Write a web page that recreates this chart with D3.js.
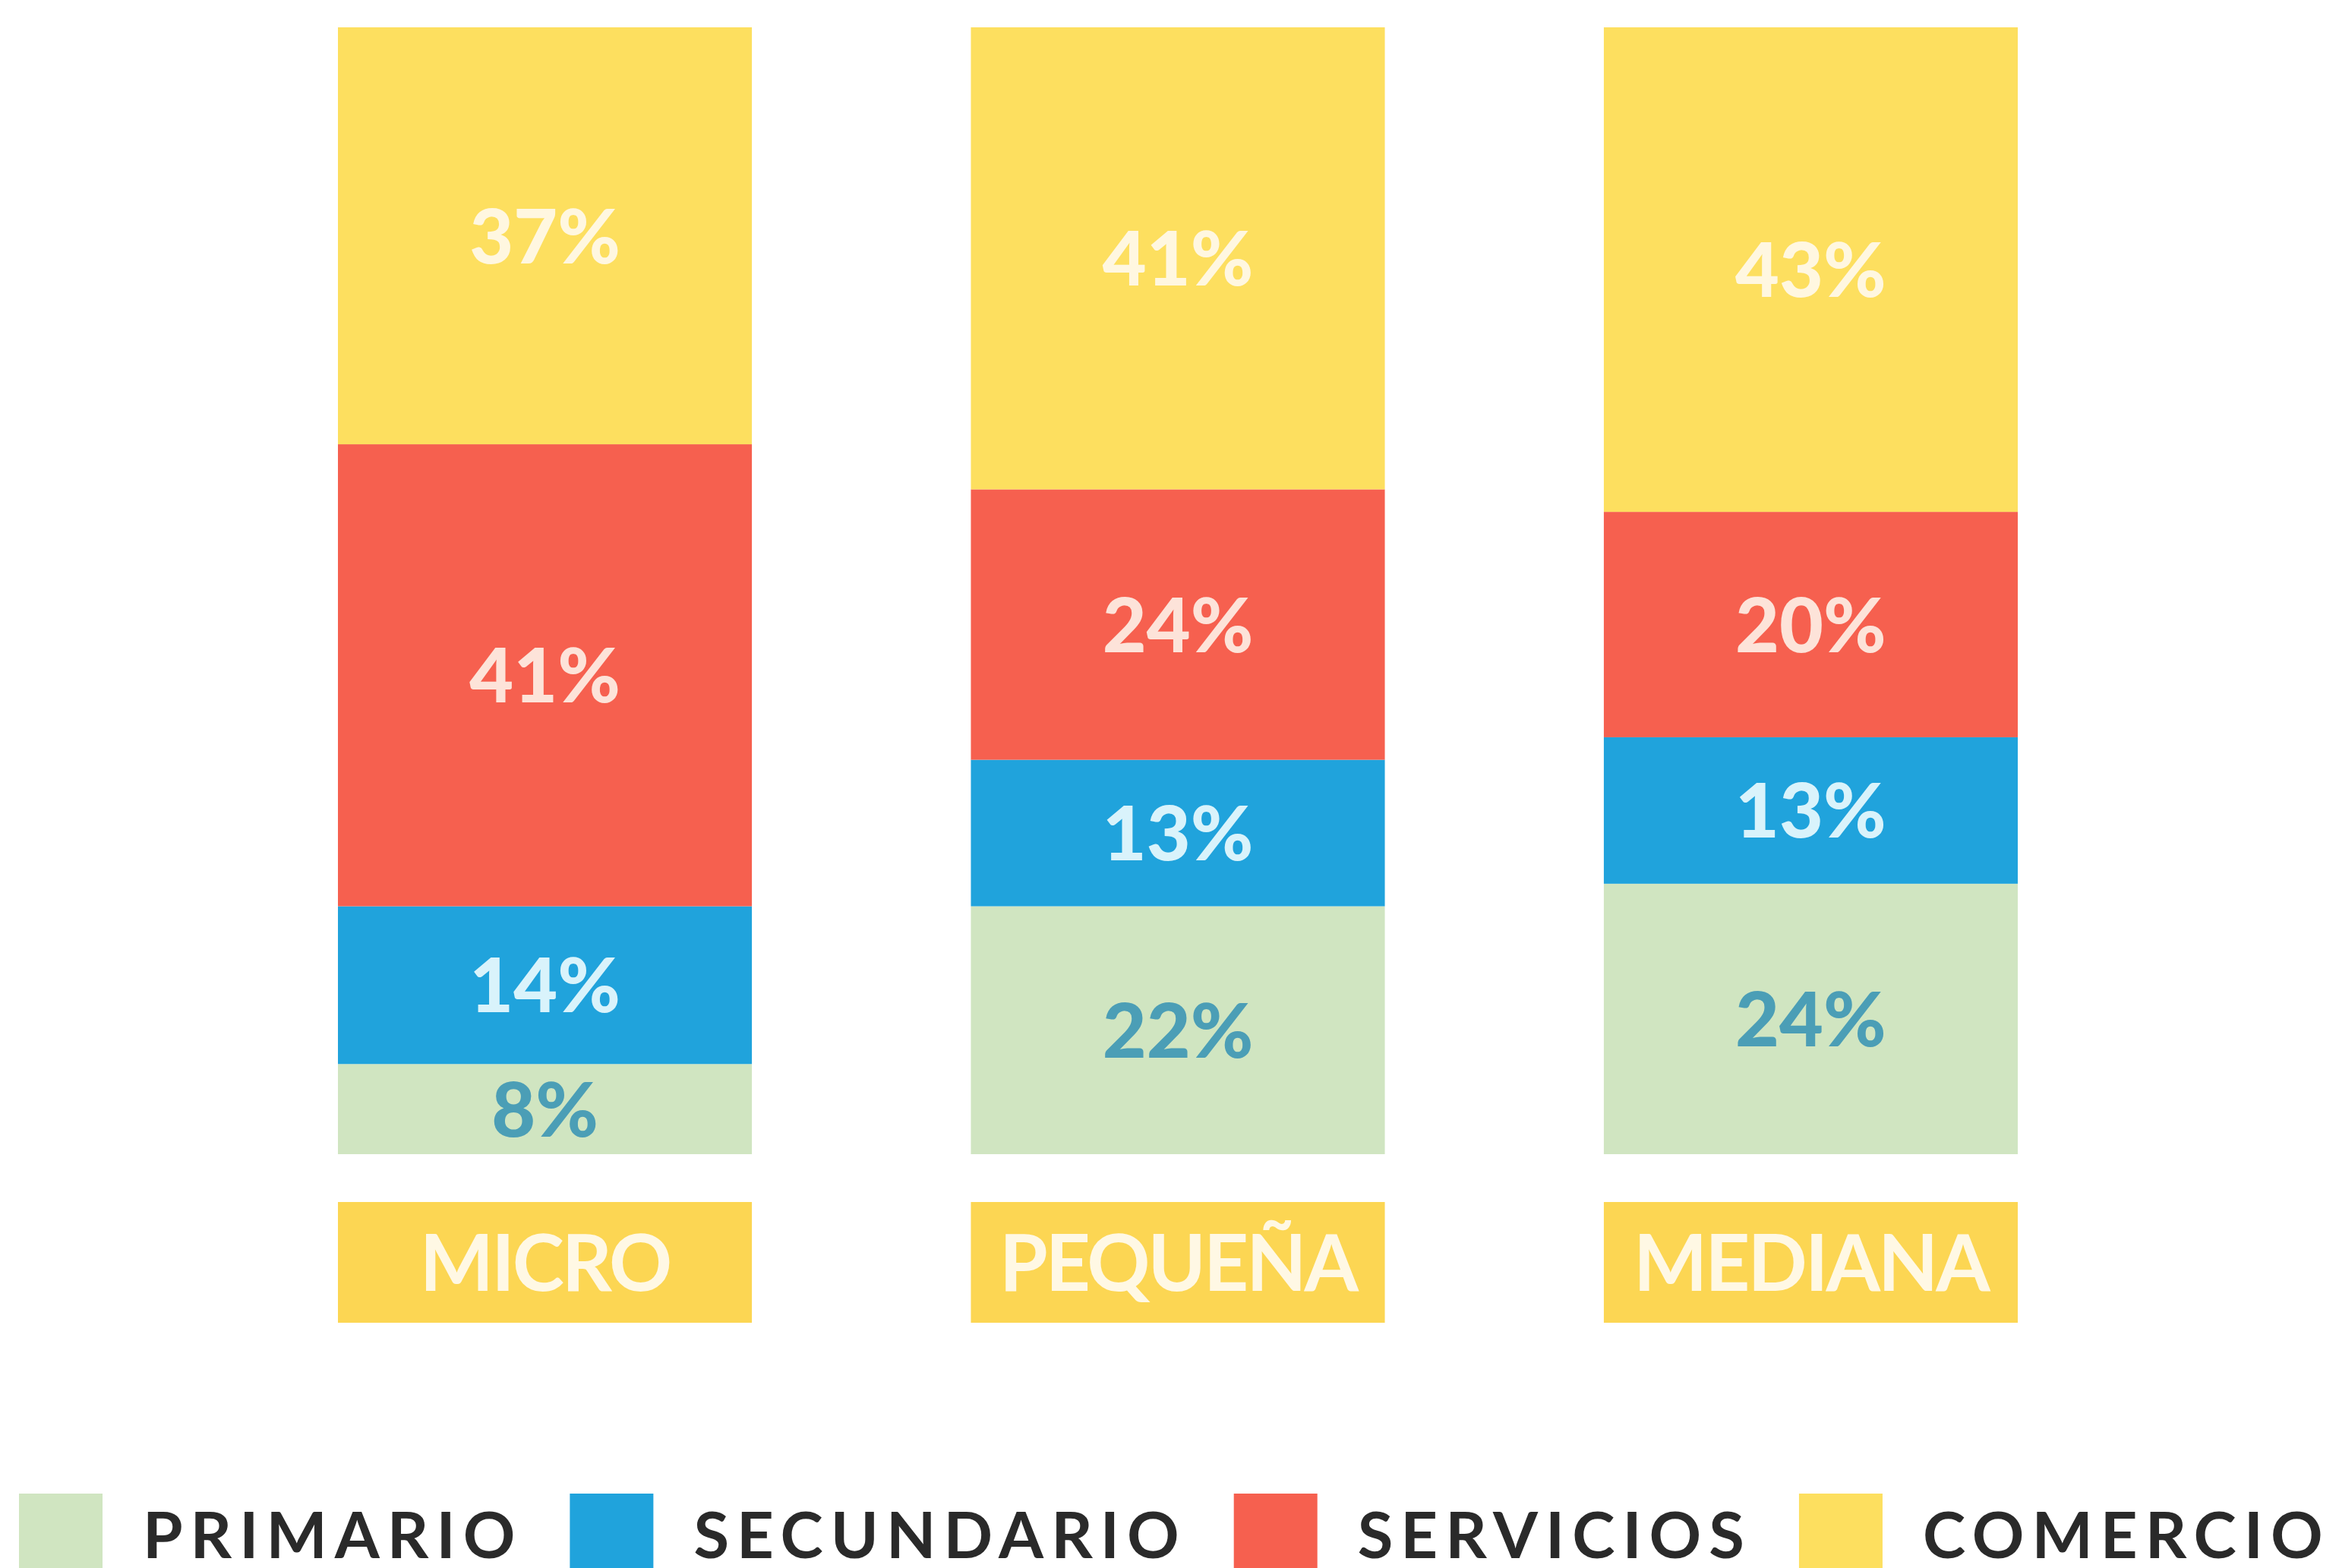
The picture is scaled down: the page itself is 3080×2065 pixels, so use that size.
<!DOCTYPE html>
<html>
<head>
<meta charset="utf-8">
<script src="https://cdn.jsdelivr.net/npm/d3@7"></script>
<style>
  html, body { margin: 0; padding: 0; background: #ffffff; }
  #chart { width: 3080px; height: 2065px; }
</style>
</head>
<body>
<div id="chart"></div>
<script>
"use strict";

// Data (percent of companies per sector)
var categories = ["MICRO", "PEQUEÑA", "MEDIANA"];
var series = ["PRIMARIO", "SECUNDARIO", "SERVICIOS", "COMERCIO"];
var primario   = [8, 22, 24];
var secundario = [14, 13, 13];
var servicios  = [41, 24, 20];
var comercio   = [37, 41, 43];

var colors    = ["#d0e5c1", "#20a3dc", "#f6604f", "#fddf5f"];
var txtColors = ["#4b9eb6", "#d9f3fb", "#fde3d9", "#fff7e0"];

var width = 3080, height = 2065;

var svg = d3.select("#chart")
            .append("svg")
            .attr("width", width)
            .attr("height", height);

// rows for d3.stack
var rows = categories.map(function(c, i) {
  return { cat: c, PRIMARIO: primario[i], SECUNDARIO: secundario[i],
           SERVICIOS: servicios[i], COMERCIO: comercio[i] };
});

var stacked = d3.stack().keys(series)(rows);

// Scales
var x = d3.scaleBand()
          .domain(categories)
          .range([445, 2657])
          .paddingInner(0.346)
          .paddingOuter(0);

var y = d3.scaleLinear()
          .domain([0, 100])
          .range([1520, 36]);

var color = d3.scaleOrdinal().domain(series).range(colors);
var txtColor = d3.scaleOrdinal().domain(series).range(txtColors);

// bars
var layer = svg.selectAll("g.layer")
               .data(stacked)
               .enter()
               .append("g")
               .attr("class", "layer");

layer.selectAll("rect")
     .data(function(d) { return d.map(function(p) { p.key = d.key; return p; }); })
     .enter()
     .append("rect")
     .attr("x", function(d) { return x(d.data.cat); })
     .attr("y", function(d) { return y(d[1]); })
     .attr("width", x.bandwidth())
     .attr("height", function(d) { return y(d[0]) - y(d[1]); })
     .attr("fill", function(d) { return color(d.key); });

layer.selectAll("text")
     .data(function(d) { return d; })
     .enter()
     .append("text")
     .attr("x", function(d) { return x(d.data.cat) + x.bandwidth() / 2; })
     .attr("y", function(d) { return (y(d[0]) + y(d[1])) / 2; })
     .attr("dy", "0.36em")
     .attr("text-anchor", "middle")
     .style("font-family", "Lato, 'Open Sans', sans-serif")
     .style("font-weight", 900)
     .style("font-size", "100px")
     .attr("fill", function(d) { return txtColor(d.key); })
     .text(function(d) { return (d[1] - d[0]) + "%"; });

// category boxes under the bars
var catG = svg.selectAll("g.cat")
              .data(categories)
              .enter()
              .append("g")
              .attr("class", "cat");

catG.append("rect")
    .attr("x", function(d) { return x(d); })
    .attr("y", 1583)
    .attr("width", x.bandwidth())
    .attr("height", 159)
    .attr("fill", "#fcd653");

catG.append("text")
    .attr("x", function(d) { return x(d) + x.bandwidth() / 2; })
    .attr("y", 1700)
    .attr("text-anchor", "middle")
    .style("font-family", "Lato, 'Open Sans', sans-serif")
    .style("font-weight", 700)
    .style("font-size", "103px")
    .style("letter-spacing", "-3px")
    .attr("fill", "#fff8e4")
    .text(function(d) { return d; });

// legend, laid out left to right after measuring the text
var legend = svg.append("g").attr("class", "legend");
var lx = 25;
series.forEach(function(s) {
  legend.append("rect")
        .attr("x", lx)
        .attr("y", 1967)
        .attr("width", 110)
        .attr("height", 110)
        .attr("fill", color(s));
  var t = legend.append("text")
                .attr("x", lx + 110 + 53)
                .attr("y", 2052)
                .style("font-family", "Lato, 'Open Sans', sans-serif")
                .style("font-weight", 700)
                .style("font-size", "85px")
                .style("letter-spacing", "10px")
                .attr("fill", "#2a2a2a")
                .text(s);
  lx = lx + 110 + 53 + t.node().getComputedTextLength() + 62;
});
</script>
</body>
</html>
